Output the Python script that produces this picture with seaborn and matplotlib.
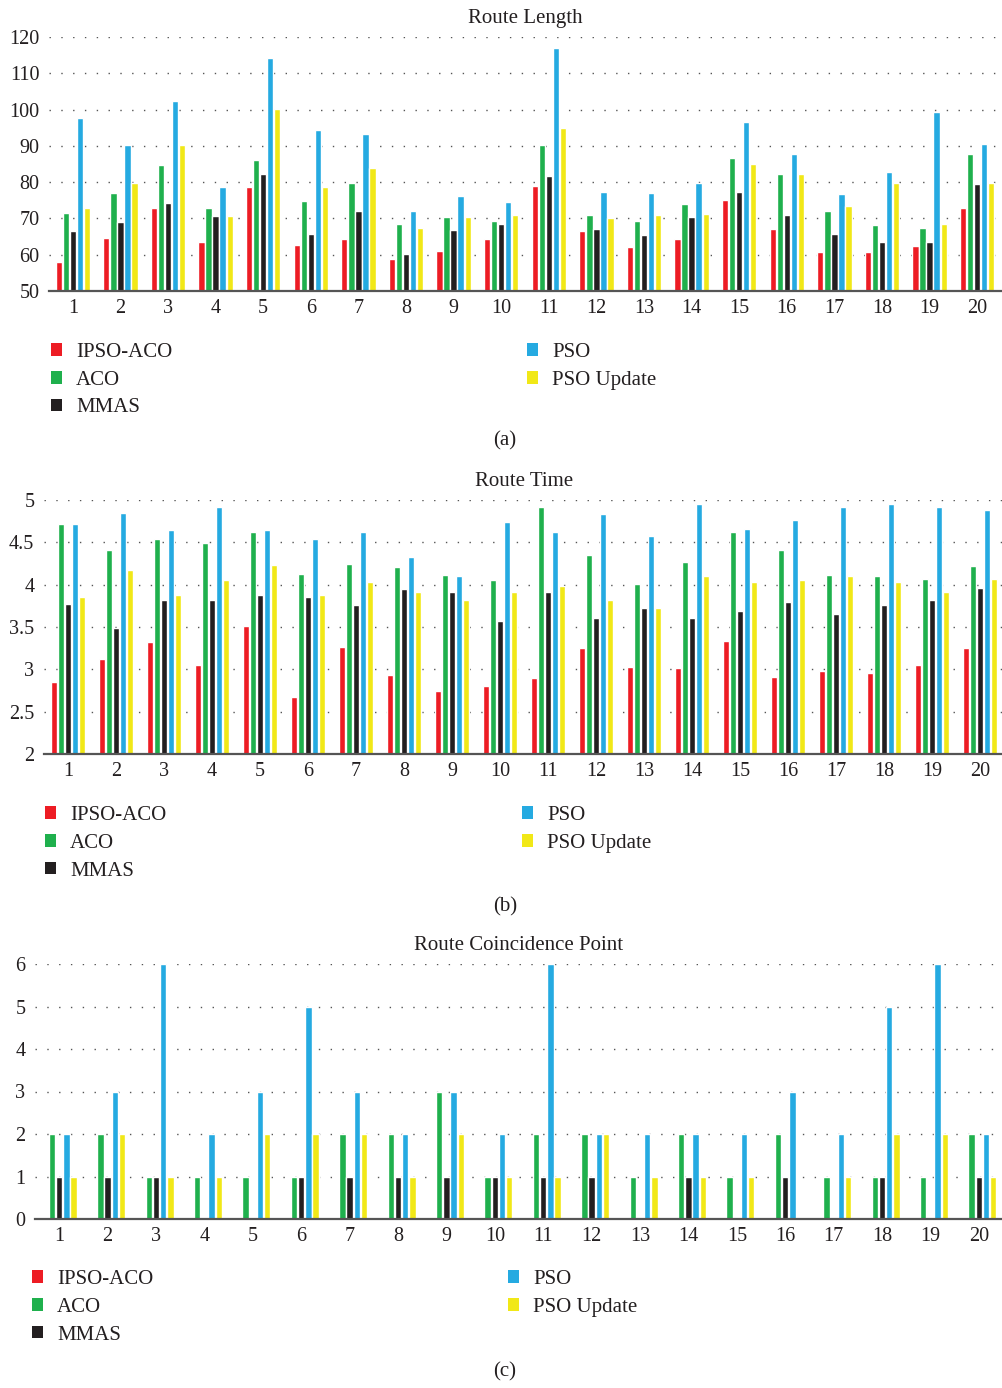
import numpy as np
import pandas as pd
import matplotlib
matplotlib.use("Agg")
import matplotlib.pyplot as plt
from matplotlib.patches import Patch
import seaborn as sns

# ---- data -------------------------------------------------------------
routes = [str(i) for i in range(1, 21)]
methods = ["IPSO-ACO", "ACO", "MMAS", "PSO", "PSO Update"]
colors = ["#ED1C24", "#1FB04D", "#231F20", "#25AAE1", "#F1E817"]

length_ipso = [57.9, 64.5, 72.8, 63.4, 78.6, 62.6, 64.2, 58.7, 60.9, 64.2,
               78.8, 66.4, 62.0, 64.2, 75.0, 67.0, 60.7, 60.7, 62.3, 72.8]
length_aco = [71.4, 76.9, 84.6, 72.8, 86.0, 74.7, 79.7, 68.6, 70.3, 69.2,
              90.1, 70.9, 69.2, 73.9, 86.6, 82.2, 72.0, 68.1, 67.5, 87.7]
length_mmas = [66.4, 68.9, 74.2, 70.6, 82.2, 65.6, 72.0, 60.1, 66.7, 68.6,
               81.6, 67.0, 65.3, 70.3, 77.2, 70.9, 65.6, 63.4, 63.4, 79.4]
length_pso = [97.6, 90.1, 102.5, 78.6, 114.1, 94.3, 93.2, 72.0, 76.1, 74.4,
              116.9, 77.2, 76.9, 79.7, 96.5, 87.7, 76.6, 82.7, 99.2, 90.4]
length_psou = [72.8, 79.9, 90.1, 70.6, 100.1, 78.6, 83.8, 67.5, 70.3, 70.9,
               94.8, 70.0, 70.9, 71.1, 84.9, 82.2, 73.3, 79.7, 68.4, 79.9]

time_ipso = [2.85, 3.12, 3.32, 3.05, 3.51, 2.67, 3.26, 2.93, 2.74, 2.80,
             2.90, 3.25, 3.03, 3.02, 3.33, 2.91, 2.98, 2.96, 3.05, 3.25]
time_aco = [4.72, 4.41, 4.54, 4.49, 4.62, 4.13, 4.24, 4.21, 4.11, 4.06,
            4.92, 4.35, 4.01, 4.27, 4.62, 4.41, 4.11, 4.10, 4.07, 4.22]
time_mmas = [3.77, 3.49, 3.82, 3.82, 3.88, 3.85, 3.76, 3.95, 3.91, 3.57,
             3.91, 3.61, 3.72, 3.61, 3.69, 3.80, 3.65, 3.76, 3.82, 3.96]
time_pso = [4.72, 4.85, 4.65, 4.92, 4.65, 4.54, 4.62, 4.33, 4.10, 4.74,
            4.62, 4.83, 4.57, 4.95, 4.66, 4.76, 4.92, 4.95, 4.92, 4.88]
time_psou = [3.85, 4.17, 3.88, 4.06, 4.23, 3.88, 4.03, 3.91, 3.82, 3.91,
             3.98, 3.82, 3.72, 4.10, 4.03, 4.06, 4.10, 4.03, 3.91, 4.07]

coin_ipso = [0] * 20
coin_aco = [2, 2, 1, 1, 1, 1, 2, 2, 3, 1, 2, 2, 1, 2, 1, 2, 1, 1, 1, 2]
coin_mmas = [1, 1, 1, 0, 0, 1, 1, 1, 1, 1, 1, 1, 0, 1, 0, 1, 0, 1, 0, 1]
coin_pso = [2, 3, 6, 2, 3, 5, 3, 2, 3, 2, 6, 2, 2, 2, 2, 3, 2, 5, 6, 2]
coin_psou = [1, 2, 1, 1, 2, 2, 2, 1, 2, 1, 1, 2, 1, 1, 1, 0, 1, 2, 2, 1]


def long_frame(series):
    rows = []
    for m, vals in zip(methods, series):
        for r, v in zip(routes, vals):
            rows.append({"route": r, "method": m, "value": v})
    return pd.DataFrame(rows)


# ---- styling ----------------------------------------------------------
sns.set_theme(style="white")
plt.rcParams["font.family"] = ["Liberation Serif", "DejaVu Serif"]
TXT = "#231F20"

W, H = 1002, 1388
fig = plt.figure(figsize=(W / 100, H / 100), dpi=100)


def px_axes(left, top, right, bottom):
    return fig.add_axes([left / W, 1 - bottom / H, (right - left) / W, (bottom - top) / H])


panels = [
    dict(box=(49, 37, 1001, 291), title="Route Length",
         series=[length_ipso, length_aco, length_mmas, length_pso, length_psou],
         ylim=(50, 120), ticks=np.arange(50, 121, 10),
         leg_left=(51, 343), leg_right=(527, 343), cap=("(a)", 441)),
    dict(box=(44, 500, 1004, 754), title="Route Time",
         series=[time_ipso, time_aco, time_mmas, time_pso, time_psou],
         ylim=(2, 5), ticks=np.arange(2, 5.01, 0.5),
         leg_left=(45, 806), leg_right=(522, 806), cap=("(b)", 907)),
    dict(box=(35, 964, 1003, 1219), title="Route Coincidence Point",
         series=[coin_ipso, coin_aco, coin_mmas, coin_pso, coin_psou],
         ylim=(0, 6), ticks=np.arange(0, 7, 1),
         leg_left=(32, 1270), leg_right=(508, 1270), cap=("(c)", 1372)),
]

for p in panels:
    ax = px_axes(*p["box"])
    df = long_frame(p["series"])
    sns.barplot(data=df, x="route", y="value", hue="method",
                order=routes, hue_order=methods, palette=colors,
                saturation=1, width=0.74, gap=0.1, errorbar=None,
                legend=False, ax=ax)
    ax.set_xlim(-0.5, 19.5)
    ax.set_ylim(*p["ylim"])
    ax.set_yticks(p["ticks"])
    ax.set_yticklabels([f"{t:g}" for t in p["ticks"]])
    ax.set_xlabel("")
    ax.set_ylabel("")
    ax.set_axisbelow(True)
    ax.yaxis.grid(True, linestyle=(0, (1, 7.5)), color="#555555", linewidth=1.0)
    ax.xaxis.grid(False)
    for side in ("top", "left", "right"):
        ax.spines[side].set_visible(False)
    ax.spines["bottom"].set_color("#555555")
    ax.spines["bottom"].set_linewidth(1.6)
    ax.tick_params(axis="both", length=0, labelsize=14.5, colors=TXT)
    ax.tick_params(axis="x", pad=6)
    ax.tick_params(axis="y", pad=7)
    ax.set_title(p["title"], fontsize=15, color=TXT, pad=10)

    handles = [Patch(facecolor=c, edgecolor="none", label=m)
               for m, c in zip(methods, colors)]
    leg_kw = dict(frameon=False, fontsize=15, handlelength=0.55, handleheight=0.55,
                  handletextpad=0.65, labelspacing=0.42, borderpad=0,
                  borderaxespad=0, loc="upper left", labelcolor=TXT)
    for hs, (lx, ly) in ((handles[:3], p["leg_left"]), (handles[3:], p["leg_right"])):
        fig.legend(handles=hs, bbox_to_anchor=(lx / W, 1 - ly / H), **leg_kw)

    cap, cy = p["cap"]
    fig.text(505 / W, 1 - cy / H, cap, ha="center", va="center", fontsize=15, color=TXT)

fig.savefig("out.png", dpi=100)
